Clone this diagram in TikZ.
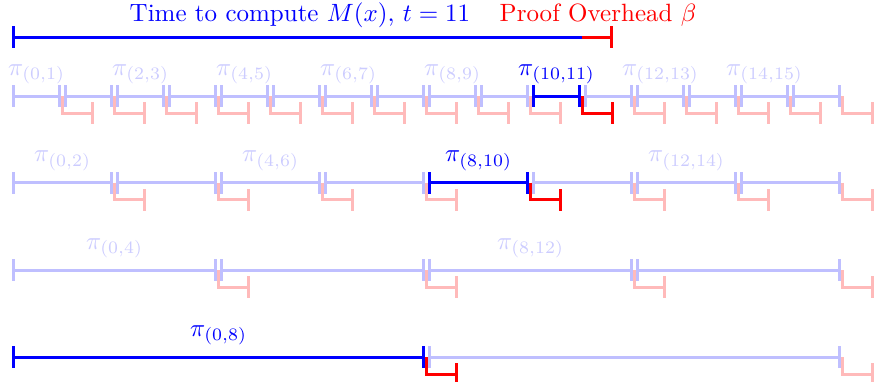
\documentclass[tikz,border=0pt]{standalone}
\begin{document}
\begin{tikzpicture}[x=0.4pt,y=-0.4pt,
  seg/.style={line width=1.2pt,|-|,blue!25},
  segon/.style={line width=1.2pt,|-|,blue},
  ovh/.style={line width=1.2pt,-|,red!27},
  ovhon/.style={line width=1.2pt,-|,red},
  lab/.style={anchor=base,inner sep=0pt,text=blue!20},
  labon/.style={anchor=base,inner sep=0pt,text=blue}]
\useasboundingbox (0,0) rectangle (874,381);
% title
\node[anchor=base,inner sep=0pt,text=blue] (title) at (300,21) {Time to compute $M(x)$, $t = 11$};
\node[anchor=base,inner sep=0pt,text=red] (over) at (598,21) {Proof Overhead $\beta$};
\coordinate (t0) at (12.3,37);
\coordinate (t1) at (581.5,37);
\coordinate (t2) at (613.3,37);
\draw[line width=1.2pt,blue,|-] (t0) -- (t1);
\draw[line width=1.2pt,red,-|] (t1) -- (t2);
% rows (light)
\foreach \r/\yy/\w/\n in {1/96/1/16, 2/182.5/2/8, 3/270/4/4, 4/357/8/2} {
  \pgfmathtruncatemacro\last{\n-1}
  \foreach \k in {0,...,\last} {
    \pgfmathsetmacro\xa{10.6+52*\k*\w}
    \pgfmathsetmacro\xb{10.6+52*(\k+1)*\w}
    \coordinate (s-\r-\k) at ({\xa+1.7},\yy);
    \coordinate (e-\r-\k) at ({\xb-1.7},\yy);
    \coordinate (o-\r-\k) at (\xb,\yy);
    \coordinate (f-\r-\k) at (\xb,{\yy+17});
    \coordinate (g-\r-\k) at ({\xb+31},{\yy+17});
    \draw[ovh] (o-\r-\k) -- (f-\r-\k) -- (g-\r-\k);
    \draw[seg] (s-\r-\k) -- (e-\r-\k);
  }
}
% highlighted
\draw[ovhon] (o-1-10) -- (f-1-10) -- (g-1-10);
\draw[segon] (s-1-10) -- (e-1-10);
\draw[ovhon] (o-2-4) -- (f-2-4) -- (g-2-4);
\draw[segon] (s-2-4) -- (e-2-4);
\draw[ovhon] (o-4-0) -- (f-4-0) -- (g-4-0);
\draw[segon] (s-4-0) -- (e-4-0);
% labels row 1
\foreach \a/\b in {0/1,2/3,4/5,6/7,8/9,12/13,14/15} {
  \node[lab] (L1-\a) at ({10.6+52*(\a+\b)/2},75) {$\pi_{(\a,\b)}$};
}
\node[labon] (L1-10) at ({10.6+52*10.5},75) {$\pi_{(10,11)}$};
% labels row 2
\foreach \a/\b in {0/2,4/6,12/14} {
  \node[lab] (L2-\a) at ({10.6+52*(\a+\b)/2},161.5) {$\pi_{(\a,\b)}$};
}
\node[labon] (L2-8) at ({10.6+52*9},161.5) {$\pi_{(8,10)}$};
% labels row 3
\foreach \a/\b in {0/4,8/12} {
  \node[lab] (L3-\a) at ({10.6+52*(\a+\b)/2},249) {$\pi_{(\a,\b)}$};
}
% label row 4
\node[labon] (L4-0) at ({10.6+52*4},336) {$\pi_{(0,8)}$};
\end{tikzpicture}
\end{document}
